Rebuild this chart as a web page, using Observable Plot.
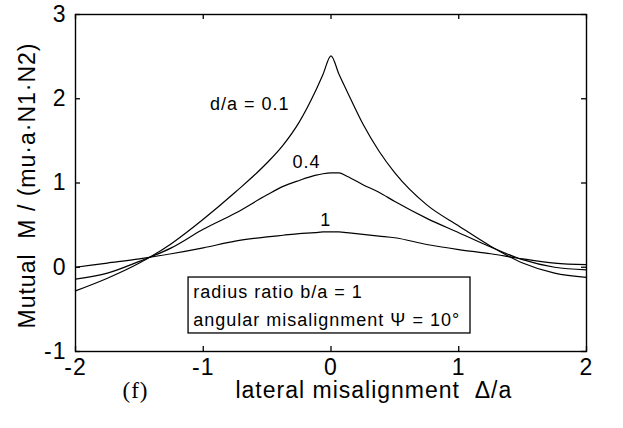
<!DOCTYPE html>
<html>
<head>
<meta charset="utf-8">
<script src="https://cdn.jsdelivr.net/npm/d3@7"></script>
<script src="https://cdn.jsdelivr.net/npm/@observablehq/plot@0.6"></script>
<style>
  body { margin: 0; background: #fff; }
  svg text { white-space: pre; }
</style>
</head>
<body>
<div id="chart"></div>
<script>
// lateral misalignment Δ/a
const xs = [-2, -1.75, -1.5, -1.25, -1, -0.75, -0.5, -0.375, -0.25, -0.125, -0.0625, 0, 0.0625, 0.125, 0.25, 0.375, 0.5, 0.75, 1, 1.25, 1.5, 1.75, 2];
// mutual inductance for d/a = 0.1, 0.4, 1
const m01 = [-0.28, -0.13, 0.05, 0.28, 0.57, 0.89, 1.24, 1.45, 1.72, 2.08, 2.29, 2.51, 2.29, 2.09, 1.70, 1.38, 1.12, 0.74, 0.49, 0.25, 0.05, -0.07, -0.12];
const m04 = [-0.14, -0.07, 0.07, 0.23, 0.45, 0.64, 0.86, 0.96, 1.03, 1.09, 1.11, 1.12, 1.12, 1.08, 0.98, 0.89, 0.78, 0.58, 0.41, 0.24, 0.09, 0.0, -0.03];
const m1  = [0.0, 0.05, 0.10, 0.16, 0.23, 0.31, 0.36, 0.38, 0.40, 0.41, 0.42, 0.42, 0.42, 0.41, 0.39, 0.37, 0.35, 0.27, 0.21, 0.16, 0.10, 0.05, 0.03];
const seriesNames = ["d/a = 0.1", "0.4", "1"];
const xTicks = [-2, -1, 0, 1, 2];
const yTicks = [-1, 0, 1, 2, 3];
const xLabel = "lateral misalignment\u00a0\u00a0Δ/a";
const yLabel = "Mutual\u00a0\u00a0M / (mu·a·N1·N2)";
const panelLabel = "(f)";
const boxLines = ["radius ratio b/a = 1", "angular misalignment Ψ = 10°"];

const seriesValues = [m01, m04, m1];
const rows = [];
seriesValues.forEach((vals, i) => xs.forEach((x, j) => rows.push({x, y: vals[j], s: seriesNames[i]})));

const W = 623, H = 428, mL = 75, mR = 37, mT = 14, mB = 77;
const pw = W - mL - mR, ph = H - mT - mB, tk = 5;

const plot = Plot.plot({
  width: W, height: H,
  marginLeft: mL, marginRight: mR, marginTop: mT, marginBottom: mB,
  x: {domain: [-2, 2]},
  y: {domain: [-1, 3]},
  style: {fontFamily: "'Liberation Sans', Arial, sans-serif", letterSpacing: "1px", background: "#fff", color: "#000"},
  marks: [
    Plot.axisX(xTicks, {tickSize: 0, tickPadding: 7, fontSize: 23, tickFormat: d => String(d), label: null}),
    Plot.axisY(yTicks, {tickSize: 0, tickPadding: 9, fontSize: 23, tickFormat: d => String(d), label: null}),
    Plot.ruleX(xTicks, {x: d => d, insetTop: ph - tk, stroke: "black", strokeWidth: 1.3}),
    Plot.ruleX(xTicks, {x: d => d, insetBottom: ph - tk, stroke: "black", strokeWidth: 1.3}),
    Plot.ruleY(yTicks, {y: d => d, insetRight: pw - tk, stroke: "black", strokeWidth: 1.3}),
    Plot.ruleY(yTicks, {y: d => d, insetLeft: pw - tk, stroke: "black", strokeWidth: 1.3}),
    Plot.line(rows, {x: "x", y: "y", z: "s", curve: "monotone-x", stroke: "black", strokeWidth: 1.2}),
    Plot.frame({stroke: "black", strokeWidth: 1.4}),
    Plot.rect([0], {x1: () => -1.115, x2: () => 1.092, y1: () => -0.786, y2: () => -0.122, fill: "white", stroke: "black", strokeWidth: 1.3}),
    Plot.text([boxLines[0]], {x: () => -1.078, y: () => -0.302, text: d => d, textAnchor: "start", fontSize: 18}),
    Plot.text([boxLines[1]], {x: () => -1.078, y: () => -0.623, text: d => d, textAnchor: "start", fontSize: 18}),
    Plot.text([seriesNames[0]], {x: () => -0.947, y: () => 1.93, text: d => d, textAnchor: "start", fontSize: 18}),
    Plot.text([seriesNames[1]], {x: () => -0.301, y: () => 1.25, text: d => d, textAnchor: "start", fontSize: 18}),
    Plot.text([seriesNames[2]], {x: () => -0.085, y: () => 0.556, text: d => d, textAnchor: "start", fontSize: 18}),
    Plot.text([xLabel], {x: () => -0.748, frameAnchor: "bottom", lineAnchor: "middle", dy: 39, text: d => d, textAnchor: "start", fontSize: 23}),
    Plot.text([panelLabel], {x: () => -1.632, frameAnchor: "bottom", lineAnchor: "middle", dy: 39, text: d => d, textAnchor: "start", fontSize: 23, fontFamily: "'Liberation Serif', 'Times New Roman', serif"}),
    Plot.text([yLabel], {frameAnchor: "left", textAnchor: "middle", lineAnchor: "middle", dx: -48, dy: 2.5, rotate: -90, text: d => d, fontSize: 23})
  ]
});
document.getElementById("chart").appendChild(plot);
</script>
</body>
</html>
